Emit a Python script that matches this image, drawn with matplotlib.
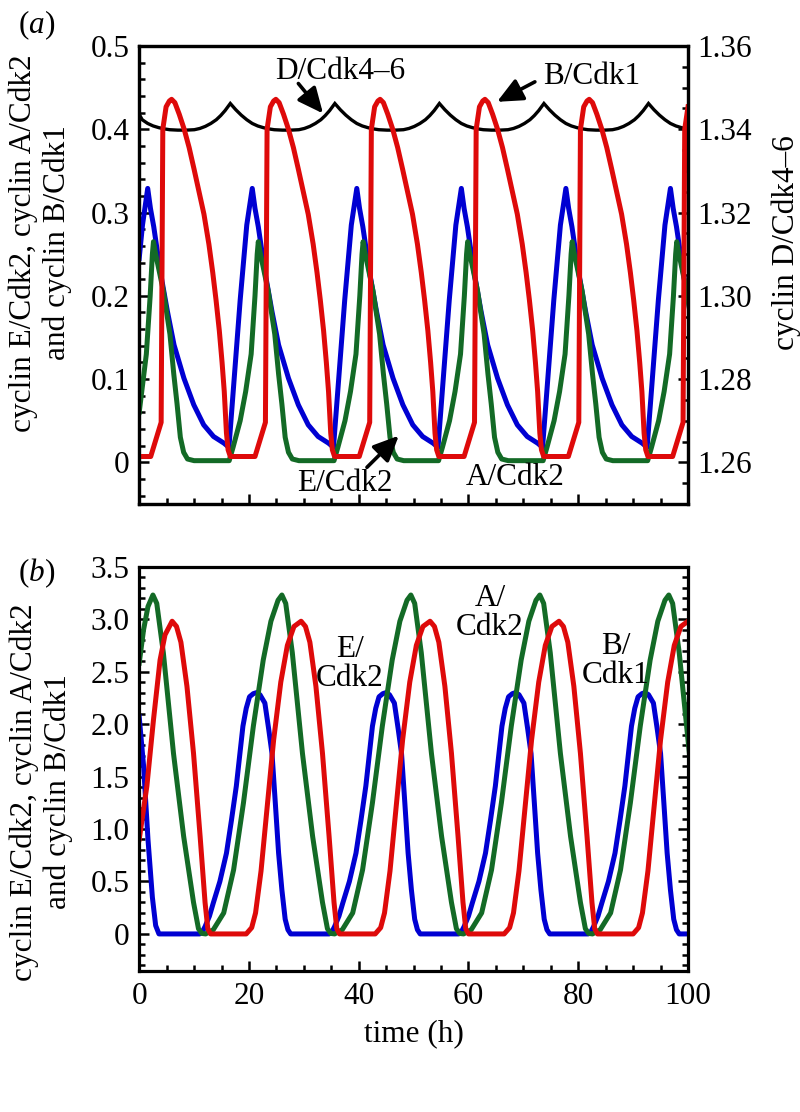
#!/usr/bin/env python3
"""Cyclin/Cdk oscillations: two stacked panels, (a) and (b)."""

import matplotlib
matplotlib.use("Agg")
import matplotlib.pyplot as plt
from matplotlib.ticker import MultipleLocator

# ---- panel (a): values ----
a_red_t = [0.0, 2.1, 4.0, 4.3, 4.9, 5.5, 5.9, 6.5, 7.3, 8.2, 9.1, 10.0, 10.9, 11.8, 12.7, 13.4, 14.0, 14.6, 15.1, 15.5, 15.9, 16.2, 16.6,
           21.1, 23.0, 23.3, 23.9, 24.5, 24.9, 25.5, 26.3, 27.2, 28.1, 29.0, 29.9, 30.8, 31.7, 32.4, 33.0, 33.6, 34.1, 34.5, 34.9, 35.2, 35.6,
           40.1, 42.0, 42.3, 42.9, 43.5, 43.9, 44.5, 45.3, 46.2, 47.1, 48.0, 48.9, 49.8, 50.7, 51.4, 52.0, 52.6, 53.1, 53.5, 53.9, 54.2, 54.6,
           59.2, 61.1, 61.4, 62.0, 62.6, 63.0, 63.6, 64.4, 65.3, 66.2, 67.1, 68.0, 68.9, 69.8, 70.5, 71.1, 71.7, 72.2, 72.6, 73.0, 73.3, 73.7,
           78.2, 80.1, 80.4, 81.0, 81.6, 82.0, 82.6, 83.4, 84.3, 85.2, 86.1, 87.0, 87.9, 88.8, 89.5, 90.1, 90.7, 91.2, 91.6, 92.0, 92.3, 92.7,
           97.2, 99.1, 99.4, 100.0]
a_red_v = [0.007, 0.007, 0.048, 0.40, 0.427, 0.434, 0.436, 0.432, 0.418, 0.400, 0.378, 0.352, 0.325, 0.298, 0.262, 0.228, 0.195, 0.158, 0.120, 0.085, 0.035, 0.015, 0.007,
           0.007, 0.048, 0.40, 0.427, 0.434, 0.436, 0.432, 0.418, 0.400, 0.378, 0.352, 0.325, 0.298, 0.262, 0.228, 0.195, 0.158, 0.120, 0.085, 0.035, 0.015, 0.007,
           0.007, 0.048, 0.40, 0.427, 0.434, 0.436, 0.432, 0.418, 0.400, 0.378, 0.352, 0.325, 0.298, 0.262, 0.228, 0.195, 0.158, 0.120, 0.085, 0.035, 0.015, 0.007,
           0.007, 0.048, 0.40, 0.427, 0.434, 0.436, 0.432, 0.418, 0.400, 0.378, 0.352, 0.325, 0.298, 0.262, 0.228, 0.195, 0.158, 0.120, 0.085, 0.035, 0.015, 0.007,
           0.007, 0.048, 0.40, 0.427, 0.434, 0.436, 0.432, 0.418, 0.400, 0.378, 0.352, 0.325, 0.298, 0.262, 0.228, 0.195, 0.158, 0.120, 0.085, 0.035, 0.015, 0.007,
           0.007, 0.048, 0.40, 0.427]

a_blue_t = [0.0, 0.6, 1.55, 2.05, 2.65, 3.85, 5.15, 6.35, 8.15, 9.95, 11.75, 13.55, 15.45, 16.35, 17.3, 18.4, 19.6,
            20.6, 21.1, 21.7, 22.9, 24.2, 25.4, 27.2, 29.0, 30.8, 32.6, 34.5, 35.4, 36.35, 37.45, 38.65,
            39.65, 40.15, 40.75, 41.95, 43.25, 44.45, 46.25, 48.05, 49.85, 51.65, 53.55, 54.45, 55.4, 56.5, 57.7,
            58.7, 59.2, 59.8, 61.0, 62.3, 63.5, 65.3, 67.1, 68.9, 70.7, 72.6, 73.5, 74.45, 75.55, 76.75,
            77.75, 78.25, 78.85, 80.05, 81.35, 82.55, 84.35, 86.15, 87.95, 89.75, 91.65, 92.55, 93.5, 94.6, 95.8,
            96.8, 97.3, 97.9, 99.1, 100.4]
a_blue_v = [0.245, 0.285, 0.329, 0.305, 0.283, 0.229, 0.181, 0.141, 0.101, 0.069, 0.045, 0.031, 0.023, 0.018, 0.100, 0.195, 0.285,
            0.329, 0.305, 0.283, 0.229, 0.181, 0.141, 0.101, 0.069, 0.045, 0.031, 0.023, 0.018, 0.100, 0.195, 0.285,
            0.329, 0.305, 0.283, 0.229, 0.181, 0.141, 0.101, 0.069, 0.045, 0.031, 0.023, 0.018, 0.100, 0.195, 0.285,
            0.329, 0.305, 0.283, 0.229, 0.181, 0.141, 0.101, 0.069, 0.045, 0.031, 0.023, 0.018, 0.100, 0.195, 0.285,
            0.329, 0.305, 0.283, 0.229, 0.181, 0.141, 0.101, 0.069, 0.045, 0.031, 0.023, 0.018, 0.100, 0.195, 0.285,
            0.329, 0.305, 0.283, 0.229, 0.181]

a_green_t = [0.0, 1.3, 2.0, 2.4, 2.6, 3.0, 4.4, 5.6, 6.3, 6.9, 7.5, 8.1, 8.8, 10.0,
             16.4, 17.1, 18.4, 19.4, 20.4, 21.1, 21.5, 21.7, 22.1, 23.5, 24.7, 25.4, 26.0, 26.6, 27.2, 27.9, 29.1,
             35.5, 36.2, 37.5, 38.5, 39.5, 40.2, 40.6, 40.8, 41.2, 42.6, 43.8, 44.5, 45.1, 45.7, 46.3, 47.0, 48.2,
             54.55, 55.25, 56.55, 57.55, 58.55, 59.25, 59.65, 59.85, 60.25, 61.65, 62.85, 63.55, 64.15, 64.75, 65.35, 66.05, 67.25,
             73.6, 74.3, 75.6, 76.6, 77.6, 78.3, 78.7, 78.9, 79.3, 80.7, 81.9, 82.6, 83.2, 83.8, 84.4, 85.1, 86.3,
             92.65, 93.35, 94.65, 95.65, 96.65, 97.35, 97.75, 97.95, 98.35, 99.75, 100.95]
a_green_v = [0.06, 0.13, 0.20, 0.25, 0.265, 0.25, 0.206, 0.154, 0.106, 0.07, 0.03, 0.012, 0.004, 0.002,
             0.002, 0.018, 0.05, 0.085, 0.13, 0.20, 0.25, 0.265, 0.25, 0.206, 0.154, 0.106, 0.07, 0.03, 0.012, 0.004, 0.002,
             0.002, 0.018, 0.05, 0.085, 0.13, 0.20, 0.25, 0.265, 0.25, 0.206, 0.154, 0.106, 0.07, 0.03, 0.012, 0.004, 0.002,
             0.002, 0.018, 0.05, 0.085, 0.13, 0.20, 0.25, 0.265, 0.25, 0.206, 0.154, 0.106, 0.07, 0.03, 0.012, 0.004, 0.002,
             0.002, 0.018, 0.05, 0.085, 0.13, 0.20, 0.25, 0.265, 0.25, 0.206, 0.154, 0.106, 0.07, 0.03, 0.012, 0.004, 0.002,
             0.002, 0.018, 0.05, 0.085, 0.13, 0.20, 0.25, 0.265, 0.25, 0.206, 0.154]

# cyclin D/Cdk4-6, right-hand axis
a_black_t = [0.0, 0.55, 1.55, 2.55, 3.55, 4.55, 5.55, 7.05, 8.55, 10.05, 11.05, 12.05, 13.05, 14.05, 14.85, 15.65,
             16.6, 17.6, 18.6, 19.6, 20.6, 21.6, 22.6, 23.6, 24.6, 26.1, 27.6, 29.1, 30.1, 31.1, 32.1, 33.1, 33.9, 34.7,
             35.65, 36.65, 37.65, 38.65, 39.65, 40.65, 41.65, 42.65, 43.65, 45.15, 46.65, 48.15, 49.15, 50.15, 51.15, 52.15, 52.95, 53.75,
             54.7, 55.7, 56.7, 57.7, 58.7, 59.7, 60.7, 61.7, 62.7, 64.2, 65.7, 67.2, 68.2, 69.2, 70.2, 71.2, 72.0, 72.8,
             73.75, 74.75, 75.75, 76.75, 77.75, 78.75, 79.75, 80.75, 81.75, 83.25, 84.75, 86.25, 87.25, 88.25, 89.25, 90.25, 91.05, 91.85,
             92.8, 93.8, 94.8, 95.8, 96.8, 97.8, 98.8, 99.8, 100.8]
a_black_v = [1.3436, 1.3423, 1.3414, 1.3408, 1.3404, 1.3401, 1.3399, 1.3398, 1.3398, 1.3399, 1.3402, 1.3407, 1.3414, 1.3423, 1.3433, 1.3445,
             1.3462, 1.3447, 1.3434, 1.3423, 1.3414, 1.3408, 1.3404, 1.3401, 1.3399, 1.3398, 1.3398, 1.3399, 1.3402, 1.3407, 1.3414, 1.3423, 1.3433, 1.3445,
             1.3462, 1.3447, 1.3434, 1.3423, 1.3414, 1.3408, 1.3404, 1.3401, 1.3399, 1.3398, 1.3398, 1.3399, 1.3402, 1.3407, 1.3414, 1.3423, 1.3433, 1.3445,
             1.3462, 1.3447, 1.3434, 1.3423, 1.3414, 1.3408, 1.3404, 1.3401, 1.3399, 1.3398, 1.3398, 1.3399, 1.3402, 1.3407, 1.3414, 1.3423, 1.3433, 1.3445,
             1.3462, 1.3447, 1.3434, 1.3423, 1.3414, 1.3408, 1.3404, 1.3401, 1.3399, 1.3398, 1.3398, 1.3399, 1.3402, 1.3407, 1.3414, 1.3423, 1.3433, 1.3445,
             1.3462, 1.3447, 1.3434, 1.3423, 1.3414, 1.3408, 1.3404, 1.3401, 1.3399]

# ---- panel (b) ----
b_blue_t = [0.0, 0.8, 1.6, 2.4, 3.0, 3.6,
            11.0, 11.5, 12.0, 12.8, 13.5, 14.7, 15.9, 16.8, 17.7, 18.9, 19.5, 20.1, 20.8, 21.4, 22.0, 22.9, 23.6, 24.2, 24.8, 25.4, 26.0, 26.6, 27.1, 27.6,
            34.6, 35.1, 35.6, 36.4, 37.1, 38.3, 39.5, 40.4, 41.3, 42.5, 43.1, 43.7, 44.4, 45.0, 45.6, 46.5, 47.2, 47.8, 48.4, 49.0, 49.6, 50.2, 50.7, 51.2,
            58.2, 58.7, 59.2, 60.0, 60.7, 61.9, 63.1, 64.0, 64.9, 66.1, 66.7, 67.3, 68.0, 68.6, 69.2, 70.1, 70.8, 71.4, 72.0, 72.6, 73.2, 73.8, 74.3, 74.8,
            81.8, 82.3, 82.8, 83.6, 84.3, 85.5, 86.7, 87.6, 88.5, 89.7, 90.3, 90.9, 91.6, 92.2, 92.8, 93.7, 94.4, 95.0, 95.6, 96.2, 96.8, 97.4, 97.9, 98.4,
            100.0]
b_blue_v = [2.07, 1.60, 0.90, 0.35, 0.08, 0.0,
            0.0, 0.02, 0.07, 0.17, 0.295, 0.50, 0.77, 1.08, 1.41, 1.98, 2.15, 2.26, 2.29, 2.30, 2.28, 2.20, 1.95, 1.72, 1.25, 0.77, 0.42, 0.14, 0.04, 0.0,
            0.0, 0.02, 0.07, 0.17, 0.295, 0.50, 0.77, 1.08, 1.41, 1.98, 2.15, 2.26, 2.29, 2.30, 2.28, 2.20, 1.95, 1.72, 1.25, 0.77, 0.42, 0.14, 0.04, 0.0,
            0.0, 0.02, 0.07, 0.17, 0.295, 0.50, 0.77, 1.08, 1.41, 1.98, 2.15, 2.26, 2.29, 2.30, 2.28, 2.20, 1.95, 1.72, 1.25, 0.77, 0.42, 0.14, 0.04, 0.0,
            0.0, 0.02, 0.07, 0.17, 0.295, 0.50, 0.77, 1.08, 1.41, 1.98, 2.15, 2.26, 2.29, 2.30, 2.28, 2.20, 1.95, 1.72, 1.25, 0.77, 0.42, 0.14, 0.04, 0.0,
            0.0]

b_green_t = [0.0, 0.8, 1.6, 2.5, 3.2, 4.4, 6.25, 8.1, 9.9, 10.8, 11.4, 12.1, 13.5, 15.4, 17.2, 19.0, 20.8, 22.6, 24.0, 25.3,
             26.0, 26.7, 27.9, 29.75, 31.6, 33.4, 34.3, 34.9, 35.6, 37.0, 38.9, 40.7, 42.5, 44.3, 46.1, 47.5, 48.8,
             49.5, 50.2, 51.4, 53.25, 55.1, 56.9, 57.8, 58.4, 59.1, 60.5, 62.4, 64.2, 66.0, 67.8, 69.6, 71.0, 72.3,
             73.0, 73.7, 74.9, 76.75, 78.6, 80.4, 81.3, 81.9, 82.6, 84.0, 85.9, 87.7, 89.5, 91.3, 93.1, 94.5, 95.8,
             96.5, 97.2, 98.4, 100.25]
b_green_v = [2.58, 2.90, 3.12, 3.23, 3.15, 2.68, 1.72, 0.93, 0.30, 0.05, 0.005, 0.0, 0.04, 0.20, 0.61, 1.25, 1.98, 2.61, 2.98, 3.18,
             3.23, 3.15, 2.68, 1.72, 0.93, 0.30, 0.05, 0.005, 0.0, 0.04, 0.20, 0.61, 1.25, 1.98, 2.61, 2.98, 3.18,
             3.23, 3.15, 2.68, 1.72, 0.93, 0.30, 0.05, 0.005, 0.0, 0.04, 0.20, 0.61, 1.25, 1.98, 2.61, 2.98, 3.18,
             3.23, 3.15, 2.68, 1.72, 0.93, 0.30, 0.05, 0.005, 0.0, 0.04, 0.20, 0.61, 1.25, 1.98, 2.61, 2.98, 3.18,
             3.23, 3.15, 2.68, 1.72]

b_red_t = [0.0, 1.4, 2.6, 3.8, 4.7, 6.0, 6.8, 7.6, 8.7, 9.9, 11.1, 12.0, 12.5, 13.0,
           19.5, 20.5, 21.2, 22.2, 23.3, 24.5, 25.8, 27.0, 28.2, 29.5, 30.3, 31.1, 32.2, 33.4, 34.6, 35.5, 36.0, 36.5,
           43.0, 44.0, 44.7, 45.7, 46.8, 48.0, 49.3, 50.5, 51.7, 53.0, 53.8, 54.6, 55.7, 56.9, 58.1, 59.0, 59.5, 60.0,
           66.5, 67.5, 68.2, 69.2, 70.3, 71.5, 72.8, 74.0, 75.2, 76.5, 77.3, 78.1, 79.2, 80.4, 81.6, 82.5, 83.0, 83.5,
           90.0, 91.0, 91.7, 92.7, 93.8, 95.0, 96.3, 97.5, 98.7, 100.0]
b_red_v = [0.90, 1.41, 2.04, 2.61, 2.85, 2.98, 2.93, 2.78, 2.36, 1.72, 0.93, 0.30, 0.05, 0.0,
           0.0, 0.06, 0.20, 0.60, 1.20, 1.85, 2.40, 2.75, 2.93, 2.98, 2.93, 2.78, 2.36, 1.72, 0.93, 0.30, 0.05, 0.0,
           0.0, 0.06, 0.20, 0.60, 1.20, 1.85, 2.40, 2.75, 2.93, 2.98, 2.93, 2.78, 2.36, 1.72, 0.93, 0.30, 0.05, 0.0,
           0.0, 0.06, 0.20, 0.60, 1.20, 1.85, 2.40, 2.75, 2.93, 2.98, 2.93, 2.78, 2.36, 1.72, 0.93, 0.30, 0.05, 0.0,
           0.0, 0.06, 0.20, 0.60, 1.20, 1.85, 2.40, 2.75, 2.93, 2.98]

a_left_ticks = [0, 0.1, 0.2, 0.3, 0.4, 0.5]
a_left_labels = ["0", "0.1", "0.2", "0.3", "0.4", "0.5"]
a_right_ticks = [1.26, 1.28, 1.30, 1.32, 1.34, 1.36]
a_right_labels = ["1.26", "1.28", "1.30", "1.32", "1.34", "1.36"]
b_ticks = [0, 0.5, 1.0, 1.5, 2.0, 2.5, 3.0, 3.5]
b_labels = ["0", "0.5", "1.0", "1.5", "2.0", "2.5", "3.0", "3.5"]
x_ticks = [0, 20, 40, 60, 80, 100]

BLUE = "#0000d2"
GREEN = "#136a26"
RED = "#de0a0a"
FS = 22.5
LW = 3.6


def style_axis(ax, left=True, right=True):
    for side in ax.spines.values():
        side.set_linewidth(2.3)
    ax.tick_params(which="both", direction="in", width=1.8, top=False,
                   left=left, right=right, labelsize=FS)
    ax.tick_params(which="major", length=7.5)
    ax.tick_params(which="minor", length=4.5)
    ax.tick_params(axis="y", pad=7)
    ax.tick_params(axis="x", pad=8)


def main() -> None:
    plt.rcParams["font.family"] = ["Liberation Serif", "DejaVu Serif"]
    plt.rcParams["mathtext.fontset"] = "custom"
    plt.rcParams["mathtext.rm"] = "Liberation Serif"
    plt.rcParams["mathtext.it"] = "Liberation Serif:italic"

    fig = plt.figure(figsize=(8.0, 11.12), dpi=100)

    # ---------------- panel (a) ----------------
    ax = fig.add_axes([0.174, 0.5468, 0.686, 0.4118])
    ax2 = ax.twinx()
    ax2.set_zorder(ax.get_zorder() - 1)
    ax.patch.set_visible(False)

    ax2.plot(a_black_t, a_black_v, color="black", lw=2.4, solid_joinstyle="miter")
    ax.plot(a_blue_t, a_blue_v, color=BLUE, lw=LW)
    ax.plot(a_green_t, a_green_v, color=GREEN, lw=LW)
    ax.plot(a_red_t, a_red_v, color=RED, lw=LW)

    ax.set_xlim(0, 100)
    ax.set_ylim(-0.05, 0.5)
    ax2.set_ylim(1.25, 1.36)
    ax.set_xticks(x_ticks, [])
    ax.xaxis.set_minor_locator(MultipleLocator(5))
    ax.set_yticks(a_left_ticks, a_left_labels)
    ax.yaxis.set_minor_locator(MultipleLocator(0.02))
    ax2.set_yticks(a_right_ticks, a_right_labels)
    ax2.yaxis.set_minor_locator(MultipleLocator(0.005))
    style_axis(ax, left=True, right=False)
    style_axis(ax2, left=False, right=True)

    arrow = dict(arrowstyle="-|>,head_length=0.7,head_width=0.32",
                 color="black", lw=2.6, shrinkA=0, shrinkB=0,
                 mutation_scale=22)
    ax.text(36.6, 0.470, "D/Cdk4\u20136", fontsize=FS, ha="center", va="center")
    ax.annotate("", xy=(33.5, 0.419), xytext=(29.0, 0.455), arrowprops=arrow)
    ax.text(82.5, 0.464, "B/Cdk1", fontsize=FS, ha="center", va="center")
    ax.annotate("", xy=(65.2, 0.433), xytext=(72.1, 0.457), arrowprops=arrow)
    ax.text(37.4, -0.026, "E/Cdk2", fontsize=FS, ha="center", va="center")
    ax.annotate("", xy=(47.3, 0.032), xytext=(41.5, -0.006), arrowprops=arrow)
    ax.text(68.5, -0.018, "A/Cdk2", fontsize=FS, ha="center", va="center")

    fig.text(40 / 800, 1 - 243 / 1112,
             "cyclin E/Cdk2, cyclin A/Cdk2\nand cyclin B/Cdk1",
             rotation=90, ha="center", va="center", fontsize=FS,
             multialignment="center", linespacing=1.2)
    fig.text(786 / 800, 1 - 243 / 1112, "cyclin D/Cdk4\u20136",
             rotation=90, ha="center", va="center", fontsize=FS)
    fig.text(18 / 800, 1 - 8 / 1112, "($\\mathit{a}$)", fontsize=FS,
             ha="left", va="top")

    # ---------------- panel (b) ----------------
    bx = fig.add_axes([0.174, 0.1271, 0.686, 0.3633])
    bx.plot(b_blue_t, b_blue_v, color=BLUE, lw=LW)
    bx.plot(b_green_t, b_green_v, color=GREEN, lw=LW)
    bx.plot(b_red_t, b_red_v, color=RED, lw=LW)

    bx.set_xlim(0, 100)
    bx.set_ylim(-0.35, 3.5)
    bx.set_xticks(x_ticks, [str(v) for v in x_ticks])
    bx.xaxis.set_minor_locator(MultipleLocator(5))
    bx.set_yticks(b_ticks, b_labels)
    bx.yaxis.set_minor_locator(MultipleLocator(0.1))
    style_axis(bx, left=True, right=True)

    for tx, ty, name in [(38.4, 2.57, "E/\nCdk2"), (63.9, 3.06, "A/\nCdk2"),
                         (86.9, 2.60, "B/\nCdk1")]:
        bx.text(tx, ty, name, fontsize=FS, ha="center", va="center",
                multialignment="center", linespacing=1.0)

    bx.set_xlabel("time (h)", fontsize=FS, labelpad=6)
    fig.text(41 / 800, 1 - 792 / 1112,
             "cyclin E/Cdk2, cyclin A/Cdk2\nand cyclin B/Cdk1",
             rotation=90, ha="center", va="center", fontsize=FS,
             multialignment="center", linespacing=1.2)
    fig.text(18 / 800, 1 - 556 / 1112, "($\\mathit{b}$)", fontsize=FS,
             ha="left", va="top")

    fig.savefig("out.png", dpi=100)
    plt.close(fig)


if __name__ == "__main__":
    main()
